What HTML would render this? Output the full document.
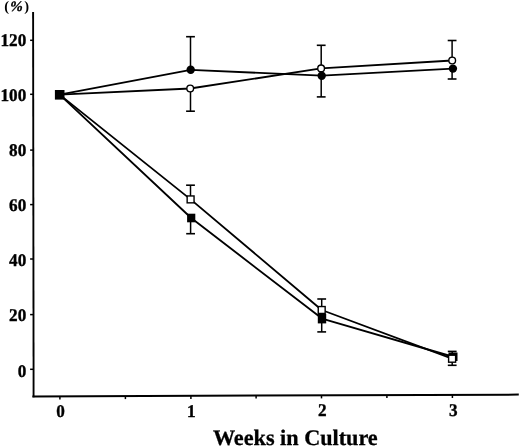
<!DOCTYPE html>
<html><head><meta charset="utf-8"><style>
html,body{margin:0;padding:0;background:#fff;width:520px;height:446px;overflow:hidden;}
svg{display:block;will-change:transform;text-rendering:geometricPrecision;}
</style></head><body>
<svg width="520" height="446" viewBox="0 0 520 446">
<line x1="33.1" y1="12" x2="33.6" y2="397.2" stroke="#000" stroke-width="1.9"/>
<line x1="32.4" y1="396.4" x2="518.8" y2="394.6" stroke="#000" stroke-width="2"/>
<line x1="30.1" y1="40.3" x2="33.2" y2="40.3" stroke="#000" stroke-width="1.5"/>
<line x1="30.1" y1="94.3" x2="33.2" y2="94.3" stroke="#000" stroke-width="1.5"/>
<line x1="30.1" y1="150.1" x2="33.2" y2="150.1" stroke="#000" stroke-width="1.5"/>
<line x1="30.1" y1="204.6" x2="33.2" y2="204.6" stroke="#000" stroke-width="1.5"/>
<line x1="30.1" y1="259" x2="33.2" y2="259" stroke="#000" stroke-width="1.5"/>
<line x1="30.1" y1="314.6" x2="33.2" y2="314.6" stroke="#000" stroke-width="1.5"/>
<line x1="30.1" y1="369.3" x2="33.2" y2="369.3" stroke="#000" stroke-width="1.5"/>
<line x1="59.9" y1="396.2" x2="59.9" y2="399.4" stroke="#000" stroke-width="1.5"/>
<line x1="190.9" y1="395.7" x2="190.9" y2="398.9" stroke="#000" stroke-width="1.5"/>
<line x1="321.5" y1="395.2" x2="321.5" y2="398.4" stroke="#000" stroke-width="1.5"/>
<line x1="452.4" y1="394.8" x2="452.4" y2="398.0" stroke="#000" stroke-width="1.5"/>
<line x1="125.4" y1="396.0" x2="125.4" y2="399.1" stroke="#000" stroke-width="1.5"/>
<line x1="256.1" y1="395.5" x2="256.1" y2="398.6" stroke="#000" stroke-width="1.5"/>
<line x1="386.9" y1="395.0" x2="386.9" y2="398.1" stroke="#000" stroke-width="1.5"/>
<polyline points="59.6,94.6 190.7,69.8 321.7,75.7 452.9,68.6" fill="none" stroke="#000" stroke-width="1.85" stroke-linejoin="round"/>
<polyline points="59.6,94.6 190.2,88.5 321.1,68.4 452.2,60.5" fill="none" stroke="#000" stroke-width="1.85" stroke-linejoin="round"/>
<polyline points="59.6,94.6 190.6,199.4 321.7,310 452.1,358.7" fill="none" stroke="#000" stroke-width="1.85" stroke-linejoin="round"/>
<polyline points="59.6,94.6 191.2,218 322,318.6 453.0,356.75" fill="none" stroke="#000" stroke-width="1.85" stroke-linejoin="round"/>
<line x1="190.5" y1="69.8" x2="190.5" y2="36.7" stroke="#000" stroke-width="1.5"/>
<line x1="186.10" y1="36.7" x2="194.90" y2="36.7" stroke="#000" stroke-width="1.6"/>
<line x1="321.2" y1="75.7" x2="321.2" y2="96.9" stroke="#000" stroke-width="1.5"/>
<line x1="316.80" y1="96.9" x2="325.60" y2="96.9" stroke="#000" stroke-width="1.6"/>
<line x1="452.1" y1="68.6" x2="452.1" y2="79.0" stroke="#000" stroke-width="1.5"/>
<line x1="447.70" y1="79.0" x2="456.50" y2="79.0" stroke="#000" stroke-width="1.6"/>
<line x1="190.5" y1="88.5" x2="190.5" y2="111.2" stroke="#000" stroke-width="1.5"/>
<line x1="186.10" y1="111.2" x2="194.90" y2="111.2" stroke="#000" stroke-width="1.6"/>
<line x1="321.2" y1="68.4" x2="321.2" y2="45.3" stroke="#000" stroke-width="1.5"/>
<line x1="316.80" y1="45.3" x2="325.60" y2="45.3" stroke="#000" stroke-width="1.6"/>
<line x1="452.1" y1="60.5" x2="452.1" y2="40.5" stroke="#000" stroke-width="1.5"/>
<line x1="447.70" y1="40.5" x2="456.50" y2="40.5" stroke="#000" stroke-width="1.6"/>
<line x1="190.5" y1="199.4" x2="190.5" y2="185.2" stroke="#000" stroke-width="1.5"/>
<line x1="186.10" y1="185.2" x2="194.90" y2="185.2" stroke="#000" stroke-width="1.6"/>
<line x1="321.7" y1="310" x2="321.7" y2="299.0" stroke="#000" stroke-width="1.5"/>
<line x1="317.30" y1="299.0" x2="326.10" y2="299.0" stroke="#000" stroke-width="1.6"/>
<line x1="452.2" y1="358.6" x2="452.2" y2="351.4" stroke="#000" stroke-width="1.5"/>
<line x1="447.80" y1="351.4" x2="456.60" y2="351.4" stroke="#000" stroke-width="1.6"/>
<line x1="190.6" y1="218" x2="190.6" y2="233.7" stroke="#000" stroke-width="1.5"/>
<line x1="186.20" y1="233.7" x2="195.00" y2="233.7" stroke="#000" stroke-width="1.6"/>
<line x1="321.7" y1="318.6" x2="321.7" y2="331.9" stroke="#000" stroke-width="1.5"/>
<line x1="317.30" y1="331.9" x2="326.10" y2="331.9" stroke="#000" stroke-width="1.6"/>
<line x1="452.2" y1="356.8" x2="452.2" y2="365.3" stroke="#000" stroke-width="1.5"/>
<line x1="447.80" y1="365.3" x2="456.60" y2="365.3" stroke="#000" stroke-width="1.6"/>
<circle cx="190.7" cy="69.8" r="4.2" fill="#000"/>
<circle cx="321.7" cy="75.7" r="4.2" fill="#000"/>
<circle cx="452.9" cy="68.6" r="4.2" fill="#000"/>
<circle cx="190.2" cy="88.5" r="3.35" fill="#fff" stroke="#000" stroke-width="1.4"/>
<circle cx="321.1" cy="68.4" r="3.35" fill="#fff" stroke="#000" stroke-width="1.4"/>
<circle cx="452.2" cy="60.5" r="3.35" fill="#fff" stroke="#000" stroke-width="1.4"/>
<rect x="187.10" y="213.70" width="8.2" height="8.6" fill="#000"/>
<rect x="317.80" y="313.80" width="8.4" height="9.6" fill="#000"/>
<rect x="448.50" y="352.50" width="9.0" height="8.5" fill="#000"/>
<rect x="187.15" y="195.95" width="6.9" height="6.9" fill="#fff" stroke="#000" stroke-width="1.4"/>
<rect x="318.25" y="306.55" width="6.9" height="6.9" fill="#fff" stroke="#000" stroke-width="1.4"/>
<rect x="448.60" y="355.20" width="7.0" height="7.0" fill="#fff" stroke="#000" stroke-width="1.4"/>
<rect x="54.90" y="90.00" width="9.6" height="9.6" fill="#000"/>
<text transform="translate(26.3,46.35) scale(1,1.04)" font-family="Liberation Serif" font-weight="bold" font-size="17.2" stroke="#000" stroke-width="0.35" text-anchor="end">120</text>
<text transform="translate(26.3,100.75) scale(1,1.04)" font-family="Liberation Serif" font-weight="bold" font-size="17.2" stroke="#000" stroke-width="0.35" text-anchor="end">100</text>
<text transform="translate(26.3,156.25) scale(1,1.04)" font-family="Liberation Serif" font-weight="bold" font-size="17.2" stroke="#000" stroke-width="0.35" text-anchor="end">80</text>
<text transform="translate(26.3,211.35) scale(1,1.04)" font-family="Liberation Serif" font-weight="bold" font-size="17.2" stroke="#000" stroke-width="0.35" text-anchor="end">60</text>
<text transform="translate(26.3,266.45) scale(1,1.04)" font-family="Liberation Serif" font-weight="bold" font-size="17.2" stroke="#000" stroke-width="0.35" text-anchor="end">40</text>
<text transform="translate(26.3,321.35) scale(1,1.04)" font-family="Liberation Serif" font-weight="bold" font-size="17.2" stroke="#000" stroke-width="0.35" text-anchor="end">20</text>
<text transform="translate(26.3,376.85) scale(1,1.04)" font-family="Liberation Serif" font-weight="bold" font-size="17.2" stroke="#000" stroke-width="0.35" text-anchor="end">0</text>
<text transform="translate(60.55,416.90) scale(1,1.04)" font-family="Liberation Serif" font-weight="bold" font-size="17.2" stroke="#000" stroke-width="0.35" text-anchor="middle">0</text>
<text transform="translate(191.2,417.10) scale(1,1.04)" font-family="Liberation Serif" font-weight="bold" font-size="17.2" stroke="#000" stroke-width="0.35" text-anchor="middle">1</text>
<text transform="translate(322.2,416.40) scale(1,1.04)" font-family="Liberation Serif" font-weight="bold" font-size="17.2" stroke="#000" stroke-width="0.35" text-anchor="middle">2</text>
<text transform="translate(453.2,416.10) scale(1,1.04)" font-family="Liberation Serif" font-weight="bold" font-size="17.2" stroke="#000" stroke-width="0.35" text-anchor="middle">3</text>
<text x="295.3" y="444.6" font-family="Liberation Serif" font-weight="bold" font-size="22.2" stroke="#000" stroke-width="0.3" text-anchor="middle">Weeks in Culture</text>
<text x="4.3" y="10.9" font-family="Liberation Serif" font-weight="bold" font-size="14.5">(</text>
<text transform="translate(8.2,10.9) skewX(-12)" x="0" y="0" font-family="Liberation Serif" font-weight="bold" font-size="14.5" stroke="#000" stroke-width="0.3">%</text>
<text x="24.2" y="10.9" font-family="Liberation Serif" font-weight="bold" font-size="14.5">)</text>
</svg>
</body></html>
